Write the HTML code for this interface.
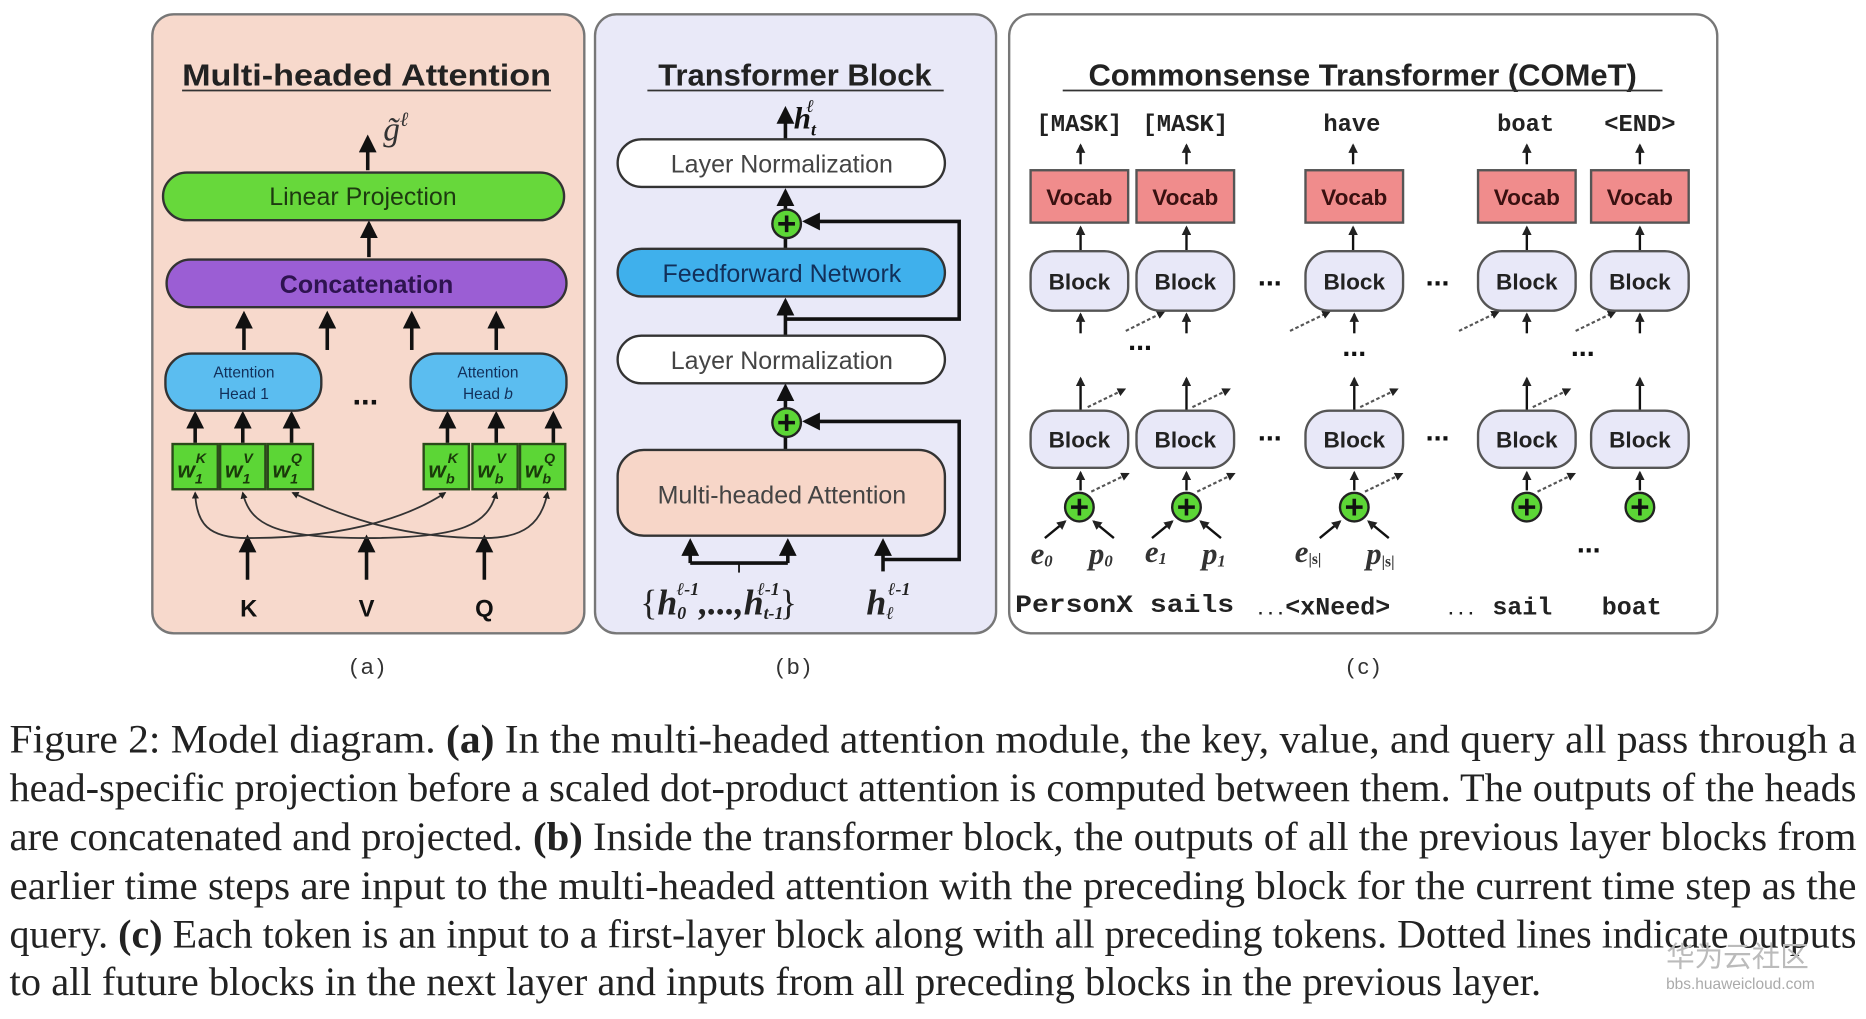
<!DOCTYPE html>
<html><head><meta charset="utf-8"><style>
html,body{margin:0;padding:0;background:#fff;width:1866px;height:1019px;overflow:hidden}
svg{display:block}
.t{font-family:"Liberation Sans",Arial,sans-serif}
.m{font-family:"Liberation Mono",monospace;font-weight:bold}
.s{font-family:"Liberation Serif",serif}
</style></head><body>
<svg width="1866" height="1019" viewBox="0 0 1568 856" preserveAspectRatio="none" xmlns="http://www.w3.org/2000/svg">
<defs>
<marker id="a" viewBox="0 0 10 10" refX="8" refY="5" markerWidth="5" markerHeight="5" orient="auto"><path d="M0,0L10,5L0,10z" fill="#111"/></marker>
<marker id="as" viewBox="0 0 10 10" refX="8" refY="5" markerWidth="4" markerHeight="4" orient="auto"><path d="M0,0L10,5L0,10z" fill="#222"/></marker>
</defs>

<!-- Panel a -->
<rect x="128" y="12" width="363" height="520" rx="18" fill="#f7d9cc" stroke="#777" stroke-width="2"/>
<text class="t" x="308" y="72" font-size="26" font-weight="bold" text-anchor="middle" fill="#222" textLength="310" lengthAdjust="spacingAndGlyphs">Multi-headed Attention</text>
<line x1="153" y1="76" x2="463" y2="76" stroke="#333" stroke-width="1.5"/>
<g stroke="#111" stroke-width="3" fill="none" marker-end="url(#a)">
<line x1="309" y1="143" x2="309" y2="116"/>
<line x1="310" y1="216" x2="310" y2="188"/>
<line x1="205" y1="294" x2="205" y2="264"/>
<line x1="275" y1="294" x2="275" y2="264"/>
<line x1="346" y1="294" x2="346" y2="264"/>
<line x1="417" y1="294" x2="417" y2="264"/>
<line x1="164" y1="372" x2="164" y2="348"/>
<line x1="204" y1="372" x2="204" y2="348"/>
<line x1="245" y1="372" x2="245" y2="348"/>
<line x1="376" y1="372" x2="376" y2="348"/>
<line x1="417" y1="372" x2="417" y2="348"/>
<line x1="465" y1="372" x2="465" y2="348"/>
<line x1="208" y1="487" x2="208" y2="452"/>
<line x1="308" y1="487" x2="308" y2="452"/>
<line x1="407" y1="487" x2="407" y2="452"/>
</g>
<text class="s" x="322" y="118" font-size="28" font-style="italic" fill="#333">g̃<tspan font-size="17" dy="-12">ℓ</tspan></text>
<rect x="137" y="145" width="337" height="40" rx="20" fill="#67d83b" stroke="#333" stroke-width="2"/>
<text class="t" x="305" y="172" font-size="21" text-anchor="middle" fill="#1d3a10">Linear Projection</text>
<rect x="140" y="218" width="336" height="40" rx="20" fill="#9b5ed4" stroke="#333" stroke-width="2"/>
<text class="t" x="308" y="246" font-size="21" font-weight="bold" text-anchor="middle" fill="#2e1350">Concatenation</text>
<rect x="139" y="297" width="131" height="48" rx="22" fill="#5bbdf0" stroke="#333" stroke-width="2"/>
<text class="t" x="205" y="317" font-size="13" text-anchor="middle" fill="#12305a">Attention</text>
<text class="t" x="205" y="335" font-size="13" text-anchor="middle" fill="#12305a">Head 1</text>
<rect x="345" y="297" width="131" height="48" rx="22" fill="#5bbdf0" stroke="#333" stroke-width="2"/>
<text class="t" x="410" y="317" font-size="13" text-anchor="middle" fill="#12305a">Attention</text>
<text class="t" x="410" y="335" font-size="13" text-anchor="middle" fill="#12305a">Head <tspan font-style="italic">b</tspan></text>
<text class="t" x="307" y="340" font-size="26" font-weight="bold" text-anchor="middle" fill="#111">...</text>
<g fill="#5cd636" stroke="#2a4a1a" stroke-width="2">
<rect x="145" y="373" width="38" height="38"/><rect x="185" y="373" width="38" height="38"/><rect x="225" y="373" width="38" height="38"/>
<rect x="356" y="373" width="38" height="38"/><rect x="397" y="373" width="38" height="38"/><rect x="437" y="373" width="38" height="38"/>
</g>
<g class="t" font-size="19" font-weight="bold" font-style="italic" fill="#1a3a0a">
<text x="149" y="401">w<tspan font-size="12" dy="5">1</tspan><tspan font-size="12" dx="-6" dy="-17">K</tspan></text>
<text x="189" y="401">w<tspan font-size="12" dy="5">1</tspan><tspan font-size="12" dx="-6" dy="-17">V</tspan></text>
<text x="229" y="401">w<tspan font-size="12" dy="5">1</tspan><tspan font-size="12" dx="-6" dy="-17">Q</tspan></text>
<text x="360" y="401">w<tspan font-size="12" dy="5">b</tspan><tspan font-size="12" dx="-6" dy="-17">K</tspan></text>
<text x="401" y="401">w<tspan font-size="12" dy="5">b</tspan><tspan font-size="12" dx="-6" dy="-17">V</tspan></text>
<text x="441" y="401">w<tspan font-size="12" dy="5">b</tspan><tspan font-size="12" dx="-6" dy="-17">Q</tspan></text>
</g>
<g stroke="#333" stroke-width="1.5" fill="none" marker-end="url(#as)">
<path d="M208,452 C175,452 165,440 164,414"/>
<path d="M208,452 C300,452 350,430 374,414"/>
<path d="M308,452 C230,452 210,440 204,414"/>
<path d="M308,452 C390,452 410,440 417,414"/>
<path d="M407,452 C330,452 280,430 246,414"/>
<path d="M407,452 C440,452 455,440 460,414"/>
</g>
<g class="t" font-size="20" font-weight="bold" fill="#111" text-anchor="middle">
<text x="209" y="518">K</text><text x="308" y="518">V</text><text x="407" y="518">Q</text>
</g>
<text class="t" x="310" y="566" font-size="19" text-anchor="middle" fill="#333" letter-spacing="3">(a)</text>

<!-- Panel b -->
<rect x="500" y="12" width="337" height="520" rx="18" fill="#e9e9f8" stroke="#777" stroke-width="2"/>
<text class="t" x="668" y="72" font-size="26" font-weight="bold" text-anchor="middle" fill="#222">Transformer Block</text>
<line x1="544" y1="76" x2="793" y2="76" stroke="#333" stroke-width="1.5"/>
<g stroke="#111" stroke-width="3" fill="none">
<line x1="660" y1="117" x2="660" y2="92" marker-end="url(#a)"/>
<line x1="660" y1="176" x2="660" y2="161" marker-end="url(#a)"/>
<line x1="660" y1="209" x2="660" y2="200"/>
<line x1="660" y1="282" x2="660" y2="253" marker-end="url(#a)"/>
<polyline points="660,268 806,268 806,186 677,186" marker-end="url(#a)"/>
<line x1="660" y1="343" x2="660" y2="325" marker-end="url(#a)"/>
<line x1="660" y1="378" x2="660" y2="367"/>
<polyline points="742,470 806,470 806,354 677,354" marker-end="url(#a)"/>
<polyline points="580,473 580,455" marker-end="url(#a)"/>
<polyline points="662,473 662,455" marker-end="url(#a)"/>
<line x1="580" y1="473" x2="662" y2="473"/>
<line x1="742" y1="480" x2="742" y2="455" marker-end="url(#a)"/>
</g>
<line x1="621" y1="473" x2="621" y2="481" stroke="#111" stroke-width="1.5"/>
<text class="s" x="667" y="108" font-size="26" font-weight="bold" font-style="italic" fill="#111">h<tspan font-size="15" dy="6">t</tspan><tspan font-size="15" dx="-8" dy="-20">ℓ</tspan></text>
<rect x="519" y="117" width="275" height="40" rx="20" fill="#fff" stroke="#333" stroke-width="2"/>
<text class="t" x="657" y="145" font-size="21" text-anchor="middle" fill="#444">Layer Normalization</text>
<circle cx="661" cy="188" r="12" fill="#5cd636" stroke="#222" stroke-width="2"/>
<path d="M654,188h14M661,181v14" stroke="#111" stroke-width="3"/>
<rect x="519" y="209" width="275" height="40" rx="20" fill="#3fb0ec" stroke="#333" stroke-width="2"/>
<text class="t" x="657" y="237" font-size="21" text-anchor="middle" fill="#12305a">Feedforward Network</text>
<rect x="519" y="282" width="275" height="40" rx="20" fill="#fff" stroke="#333" stroke-width="2"/>
<text class="t" x="657" y="310" font-size="21" text-anchor="middle" fill="#444">Layer Normalization</text>
<circle cx="661" cy="355" r="12" fill="#5cd636" stroke="#222" stroke-width="2"/>
<path d="M654,355h14M661,348v14" stroke="#111" stroke-width="3"/>
<rect x="519" y="378" width="275" height="72" rx="22" fill="#f7d6c8" stroke="#333" stroke-width="2"/>
<text class="t" x="657" y="423" font-size="21" text-anchor="middle" fill="#444">Multi-headed Attention</text>
<text class="s" x="538" y="516" font-size="30" font-weight="bold" font-style="italic" fill="#222"><tspan font-style="normal" font-weight="normal">{</tspan>h<tspan font-size="15" dy="4">0</tspan><tspan font-size="15" dx="-8" dy="-20">ℓ-1</tspan><tspan dy="16">,...,</tspan>h<tspan font-size="15" dy="4">t-1</tspan><tspan font-size="15" dx="-22" dy="-20">ℓ-1</tspan><tspan font-style="normal" font-weight="normal" dy="16">}</tspan></text>
<text class="s" x="728" y="516" font-size="30" font-weight="bold" font-style="italic" fill="#222">h<tspan font-size="15" dy="4">ℓ</tspan><tspan font-size="15" dx="-5" dy="-20">ℓ-1</tspan></text>
<text class="t" x="668" y="566" font-size="19" text-anchor="middle" fill="#333" letter-spacing="3">(b)</text>

<!-- Panel c -->
<rect x="848" y="12" width="595" height="520" rx="18" fill="#fff" stroke="#777" stroke-width="2"/>
<text class="t" x="1145" y="72" font-size="26" font-weight="bold" text-anchor="middle" fill="#222">Commonsense Transformer (COMeT)</text>
<line x1="893" y1="76" x2="1397" y2="76" stroke="#333" stroke-width="1.5"/>
<g class="m" font-size="20" fill="#222" text-anchor="middle">
<text x="907" y="110">[MASK]</text><text x="996" y="110">[MASK]</text><text x="1136" y="110">have</text><text x="1282" y="110">boat</text><text x="1378" y="110">&lt;END&gt;</text>
</g>
<g stroke="#111" stroke-width="2" fill="none" marker-end="url(#as)">
<line x1="908" y1="138" x2="908" y2="122"/><line x1="997" y1="138" x2="997" y2="122"/><line x1="1137" y1="138" x2="1137" y2="122"/><line x1="1283" y1="138" x2="1283" y2="122"/><line x1="1378" y1="138" x2="1378" y2="122"/>
<line x1="908" y1="210" x2="908" y2="191"/><line x1="997" y1="210" x2="997" y2="191"/><line x1="1137" y1="210" x2="1137" y2="191"/><line x1="1283" y1="210" x2="1283" y2="191"/><line x1="1378" y1="210" x2="1378" y2="191"/>
<line x1="908" y1="280" x2="908" y2="264"/><line x1="997" y1="280" x2="997" y2="264"/><line x1="1138" y1="280" x2="1138" y2="264"/><line x1="1283" y1="280" x2="1283" y2="264"/><line x1="1378" y1="280" x2="1378" y2="264"/>
<line x1="908" y1="344" x2="908" y2="318"/><line x1="997" y1="344" x2="997" y2="318"/><line x1="1138" y1="344" x2="1138" y2="318"/><line x1="1283" y1="344" x2="1283" y2="318"/><line x1="1378" y1="344" x2="1378" y2="318"/>
<line x1="908" y1="412" x2="908" y2="397"/><line x1="997" y1="412" x2="997" y2="397"/><line x1="1138" y1="412" x2="1138" y2="397"/><line x1="1283" y1="412" x2="1283" y2="397"/><line x1="1378" y1="412" x2="1378" y2="397"/>
<line x1="878" y1="452" x2="895" y2="438"/><line x1="936" y1="452" x2="919" y2="438"/>
<line x1="968" y1="452" x2="985" y2="438"/><line x1="1026" y1="452" x2="1009" y2="438"/>
<line x1="1109" y1="452" x2="1126" y2="438"/><line x1="1167" y1="452" x2="1150" y2="438"/>
</g>
<g stroke="#555" stroke-width="1.8" stroke-dasharray="3,2" fill="none" marker-end="url(#as)">
<line x1="946" y1="278" x2="978" y2="262"/><line x1="1084" y1="278" x2="1117" y2="262"/><line x1="1226" y1="278" x2="1259" y2="262"/><line x1="1324" y1="278" x2="1357" y2="262"/>
<line x1="914" y1="342" x2="945" y2="327"/><line x1="1002" y1="342" x2="1033" y2="327"/><line x1="1143" y1="342" x2="1174" y2="327"/><line x1="1288" y1="342" x2="1319" y2="327"/>
<line x1="917" y1="413" x2="948" y2="398"/><line x1="1006" y1="413" x2="1037" y2="398"/><line x1="1147" y1="413" x2="1178" y2="398"/><line x1="1292" y1="413" x2="1323" y2="398"/>
</g>
<g fill="#f08c8c" stroke="#555" stroke-width="2">
<rect x="866" y="143" width="82" height="44"/><rect x="955" y="143" width="82" height="44"/><rect x="1097" y="143" width="82" height="44"/><rect x="1242" y="143" width="82" height="44"/><rect x="1337" y="143" width="82" height="44"/>
</g>
<g class="t" font-size="19" font-weight="bold" fill="#3a1010" text-anchor="middle">
<text x="907" y="172">Vocab</text><text x="996" y="172">Vocab</text><text x="1138" y="172">Vocab</text><text x="1283" y="172">Vocab</text><text x="1378" y="172">Vocab</text>
</g>
<g fill="#e8e8f8" stroke="#555" stroke-width="2">
<rect x="866" y="211" width="82" height="50" rx="20"/><rect x="955" y="211" width="82" height="50" rx="20"/><rect x="1097" y="211" width="82" height="50" rx="20"/><rect x="1242" y="211" width="82" height="50" rx="20"/><rect x="1337" y="211" width="82" height="50" rx="20"/>
<rect x="866" y="345" width="82" height="48" rx="20"/><rect x="955" y="345" width="82" height="48" rx="20"/><rect x="1097" y="345" width="82" height="48" rx="20"/><rect x="1242" y="345" width="82" height="48" rx="20"/><rect x="1337" y="345" width="82" height="48" rx="20"/>
</g>
<g class="t" font-size="19" font-weight="bold" fill="#222" text-anchor="middle">
<text x="907" y="243">Block</text><text x="996" y="243">Block</text><text x="1138" y="243">Block</text><text x="1283" y="243">Block</text><text x="1378" y="243">Block</text>
<text x="907" y="376">Block</text><text x="996" y="376">Block</text><text x="1138" y="376">Block</text><text x="1283" y="376">Block</text><text x="1378" y="376">Block</text>
</g>
<g class="t" font-size="24" font-weight="bold" fill="#111" text-anchor="middle">
<text x="1067" y="240">...</text><text x="1208" y="240">...</text>
<text x="958" y="294">...</text><text x="1138" y="299">...</text><text x="1330" y="299">...</text>
<text x="1067" y="370">...</text><text x="1208" y="370">...</text>
<text x="1335" y="464">...</text>
</g>
<g fill="#5cd636" stroke="#222" stroke-width="2">
<circle cx="907" cy="426" r="12"/><circle cx="997" cy="426" r="12"/><circle cx="1138" cy="426" r="12"/><circle cx="1283" cy="426" r="12"/><circle cx="1378" cy="426" r="12"/>
</g>
<g stroke="#111" stroke-width="3">
<path d="M900,426h14M907,419v14"/><path d="M990,426h14M997,419v14"/><path d="M1131,426h14M1138,419v14"/><path d="M1276,426h14M1283,419v14"/><path d="M1371,426h14M1378,419v14"/>
</g>
<g class="s" font-size="26" font-weight="bold" font-style="italic" fill="#333">
<text x="866" y="474">e<tspan font-size="14" dy="2">0</tspan></text>
<text x="915" y="474">p<tspan font-size="14" dy="2">0</tspan></text>
<text x="962" y="472">e<tspan font-size="14" dy="2">1</tspan></text>
<text x="1010" y="474">p<tspan font-size="14" dy="2">1</tspan></text>
<text x="1088" y="472">e<tspan font-size="13" dy="2" font-style="normal">|s|</tspan></text>
<text x="1148" y="474">p<tspan font-size="13" dy="2" font-style="normal">|s|</tspan></text>
</g>
<g class="m" font-size="21" fill="#222">
<text x="853" y="514" textLength="184" lengthAdjust="spacingAndGlyphs">PersonX sails</text>
<text x="1055" y="516" font-size="14">...</text>
<text x="1080" y="516">&lt;xNeed&gt;</text>
<text x="1215" y="516" font-size="14">...</text>
<text x="1254" y="516">sail</text>
<text x="1346" y="516">boat</text>
</g>
<text class="t" x="1147" y="566" font-size="19" text-anchor="middle" fill="#333" letter-spacing="3">(c)</text>

<!-- Caption -->
<g class="s" font-size="34" fill="#222">
<text x="8" y="632" textLength="1552" lengthAdjust="spacingAndGlyphs">Figure 2: Model diagram. <tspan font-weight="bold">(a)</tspan> In the multi-headed attention module, the key, value, and query all pass through a</text>
<text x="8" y="673" textLength="1552" lengthAdjust="spacingAndGlyphs">head-specific projection before a scaled dot-product attention is computed between them. The outputs of the heads</text>
<text x="8" y="714" textLength="1552" lengthAdjust="spacingAndGlyphs">are concatenated and projected. <tspan font-weight="bold">(b)</tspan> Inside the transformer block, the outputs of all the previous layer blocks from</text>
<text x="8" y="755" textLength="1552" lengthAdjust="spacingAndGlyphs">earlier time steps are input to the multi-headed attention with the preceding block for the current time step as the</text>
<text x="8" y="796" textLength="1552" lengthAdjust="spacingAndGlyphs">query. <tspan font-weight="bold">(c)</tspan> Each token is an input to a first-layer block along with all preceding tokens. Dotted lines indicate outputs</text>
<text x="8" y="836" textLength="1287" lengthAdjust="spacingAndGlyphs">to all future blocks in the next layer and inputs from all preceding blocks in the previous layer.</text>
</g>
<text x="1400" y="812" font-family="'Noto Sans CJK SC',sans-serif" font-size="24" fill="#bbb">华为云社区</text>
<text class="t" x="1400" y="831" font-size="13" fill="#aaa">bbs.huaweicloud.com</text>
</svg>
</body></html>
